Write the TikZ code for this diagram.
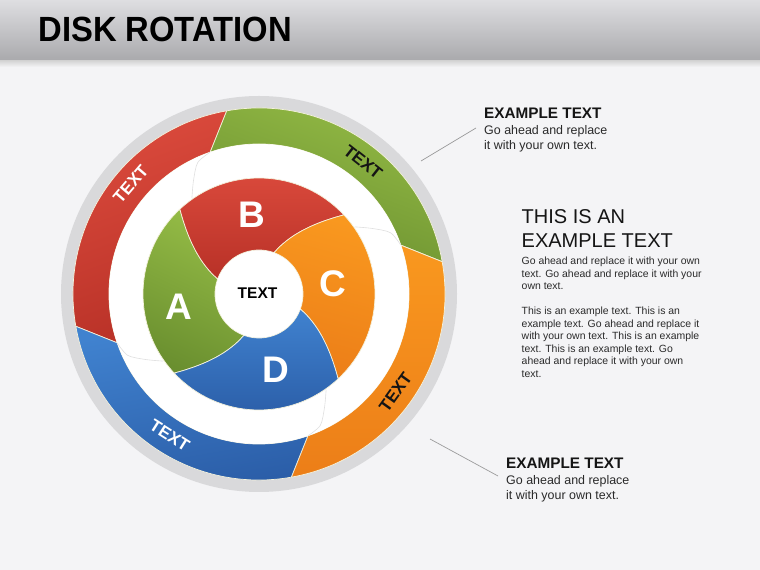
\documentclass[tikz,border=0pt]{standalone}
\usepackage{fontspec}
\setmainfont{Liberation Sans}
\usepackage{graphicx}
\definecolor{bg}{HTML}{F4F4F6}
\definecolor{hdtop}{HTML}{DEDEE1}
\definecolor{hdbot}{HTML}{A9A9AC}
\definecolor{ringgray}{HTML}{D9D9DB}
\definecolor{seamcol}{HTML}{F4F2DC}
\definecolor{faint}{HTML}{E0E0E0}
\definecolor{redA}{HTML}{DC4B3D}
\definecolor{redB}{HTML}{B83127}
\definecolor{grnA}{HTML}{95BC46}
\definecolor{grnB}{HTML}{6A8F2F}
\definecolor{orgA}{HTML}{F9981F}
\definecolor{orgB}{HTML}{EC7E18}
\definecolor{bluA}{HTML}{4082CF}
\definecolor{bluB}{HTML}{2A5CA6}
\definecolor{ink}{HTML}{151515}
\definecolor{body}{HTML}{2A2A2A}
\definecolor{linegray}{HTML}{9C9C9C}
\newcommand\ringseg[3]{\path[#3] ({#1}:186) arc[start angle={#1}, end angle={#2}, radius=186] -- ({#2+9}:150) arc[start angle={#2+9}, end angle={#1+9}, radius=150] -- cycle;}
\newcommand\diskseg[3]{\path[#3] plot[smooth, samples=10, domain=0:1, variable=\t] ({#1-27*(1.3*\t-0.3*\t*\t)}:{44+72*\t}) arc[start angle={#1-27}, end angle={#2-27}, radius=116] -- plot[smooth, samples=10, domain=1:0, variable=\t] ({#2-27*(1.3*\t-0.3*\t*\t)}:{44+72*\t}) arc[start angle={#2}, end angle={#1}, radius=44] -- cycle;}
\newcommand\faintline[1]{\draw[faintseam] plot[smooth] coordinates {({#1+9}:150) ({#1+15}:145) ({#1+20}:131) ({#1+25}:117)};}
\begin{document}
\begin{tikzpicture}[x=1pt,y=1pt,
  seg/.style={draw=seamcol, line width=0.7pt},
  faintseam/.style={draw=faint, line width=0.6pt},
  ringtext/.style={inner sep=0, font=\fontsize{17}{17}\selectfont\bfseries},
  letter/.style={inner sep=0, text=white, font=\fontsize{37}{37}\selectfont\bfseries},
  head/.style={anchor=base west, inner sep=0, text=ink, font=\fontsize{15.3}{15.3}\selectfont\bfseries},
  bodytext/.style={anchor=base west, inner sep=0, align=left, text=body},
  connector/.style={draw=linegray, line width=0.7pt}]
\useasboundingbox (0,0) rectangle (760,570);
\fill[bg] (0,0) rectangle (760,570);
\shade[top color=hdtop, bottom color=hdbot] (0,509) rectangle (760,570);
\shade[top color=black!16, bottom color=bg] (0,503) rectangle (760,509);
\node[anchor=base west, inner sep=0, text=black, font=\fontsize{35}{35}\selectfont\bfseries] (title) at (38.3,528.3) {\scalebox{0.936}[1]{DISK ROTATION}};

\begin{scope}[shift={(259,276)}]
  \fill[ringgray] (0,0) circle[radius=198];
  \ringseg{100}{190}{seg, top color=redA, bottom color=redB, shading angle=20}
  \ringseg{10}{100}{seg, left color=grnA, right color=grnB, shading angle=-20}
  \ringseg{-80}{10}{seg, top color=orgA, bottom color=orgB}
  \ringseg{-170}{-80}{seg, left color=bluA, right color=bluB, shading angle=10}
  \fill[white] (0,0) circle[radius=150];
  \faintline{100}
  \faintline{10}
  \faintline{-80}
  \faintline{-170}
  \diskseg{160}{250}{seg, top color=grnA, bottom color=grnB, shading angle=-25}
  \diskseg{70}{160}{seg, top color=redA, bottom color=redB}
  \diskseg{-20}{70}{seg, top color=orgA, bottom color=orgB, shading angle=-15}
  \diskseg{-110}{-20}{seg, top color=bluA, bottom color=bluB}
  \fill[white] (0,0) circle[radius=43.5];
  \node[inner sep=0, text=black, font=\fontsize{15.5}{15.5}\selectfont\bfseries] (center) at (-1.5,0.5) {TEXT};
  \node[letter] (A) at (-79.7,-12.7) {A};
  \node[letter] (B) at (-7.3,79) {B};
  \node[letter] (C) at (74.3,10.7) {C};
  \node[letter] (D) at (17,-75.3) {D};
  \node[ringtext, text=white, rotate=49.4] (t1) at (139.4:169) {TEXT};
  \node[ringtext, text=ink, rotate=-38.3] (t2) at (51.7:168) {TEXT};
  \node[ringtext, text=ink, rotate=54.3] (t3) at (-35.7:168) {TEXT};
  \node[ringtext, text=white, rotate=-32.3] (t4) at (-122.3:167) {TEXT};
\end{scope}

\coordinate (c1a) at (421,409);
\coordinate (c1b) at (476,442);
\coordinate (c2a) at (430,131);
\coordinate (c2b) at (498,94);
\draw[connector] (c1a) -- (c1b);
\draw[connector] (c2a) -- (c2b);

\node[head] (h1) at (484,451.7) {EXAMPLE TEXT};
\node[bodytext, font=\fontsize{12.45}{15}\selectfont] (b1) at (484,420.7) {Go ahead and replace\\it with your own text.};

\node[bodytext, text=ink, font=\fontsize{20}{24.4}\selectfont] (h2) at (521.5,322.3) {THIS IS AN\\EXAMPLE TEXT};
\node[bodytext, font=\fontsize{10.45}{12.5}\selectfont] (p1) at (521.5,280) {Go ahead and replace it with your own\\text. Go ahead and replace it with your\\own text.};
\node[bodytext, font=\fontsize{10.45}{12.5}\selectfont] (p2) at (521.5,192.5) {This is an example text. This is an\\example text. Go ahead and replace it\\with your own text. This is an example\\text. This is an example text. Go\\ahead and replace it with your own\\text.};

\node[head] (h3) at (506,101) {EXAMPLE TEXT};
\node[bodytext, font=\fontsize{12.45}{14.6}\selectfont] (b3) at (506,70.4) {Go ahead and replace\\it with your own text.};
\end{tikzpicture}
\end{document}
